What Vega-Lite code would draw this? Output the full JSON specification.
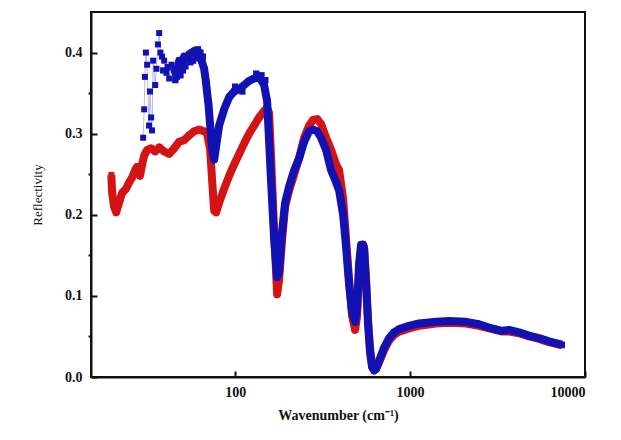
{
  "$schema": "https://vega.github.io/schema/vega-lite/v6.json",
  "width": 494,
  "height": 365,
  "autosize": "none",
  "padding": {"left": 91, "top": 12, "right": 36, "bottom": 63},
  "background": "white",
  "config": {
    "view": {"stroke": "#111", "strokeWidth": 2},
    "axis": {"grid": false, "domainColor": "#111", "domainWidth": 2, "tickColor": "#111", "tickWidth": 2,
             "labelFont": "Liberation Serif", "labelFontWeight": "bold", "labelFontSize": 14, "labelColor": "#111",
             "titleFont": "Liberation Serif", "titleColor": "#111"}
  },
  "datasets": {
    "red": [
      {"w": 19.6, "r": 0.249}, {"w": 19.8, "r": 0.228}, {"w": 20.3, "r": 0.21}, {"w": 20.9, "r": 0.203},
      {"w": 21.7, "r": 0.215}, {"w": 22.6, "r": 0.227}, {"w": 23.8, "r": 0.232}, {"w": 24.8, "r": 0.24},
      {"w": 25.8, "r": 0.246}, {"w": 26.8, "r": 0.255}, {"w": 27.5, "r": 0.259}, {"w": 28.6, "r": 0.248},
      {"w": 29.4, "r": 0.262}, {"w": 30.2, "r": 0.273}, {"w": 31.4, "r": 0.28}, {"w": 33.1, "r": 0.282},
      {"w": 34.9, "r": 0.278}, {"w": 36.8, "r": 0.283}, {"w": 39.3, "r": 0.278}, {"w": 42.0, "r": 0.275},
      {"w": 44.8, "r": 0.282}, {"w": 47.9, "r": 0.29}, {"w": 51.1, "r": 0.292}, {"w": 54.6, "r": 0.298},
      {"w": 58.3, "r": 0.303}, {"w": 62.3, "r": 0.305}, {"w": 66.5, "r": 0.303}, {"w": 69.2, "r": 0.3},
      {"w": 72.0, "r": 0.28}, {"w": 74.0, "r": 0.24}, {"w": 75.9, "r": 0.205}, {"w": 77.9, "r": 0.203},
      {"w": 81.0, "r": 0.215}, {"w": 86.5, "r": 0.232}, {"w": 92.4, "r": 0.248}, {"w": 98.7, "r": 0.262},
      {"w": 105.4, "r": 0.275}, {"w": 112.6, "r": 0.288}, {"w": 120.2, "r": 0.3}, {"w": 128.4, "r": 0.31},
      {"w": 137.1, "r": 0.32}, {"w": 146.4, "r": 0.328}, {"w": 152.4, "r": 0.332}, {"w": 156.4, "r": 0.325},
      {"w": 160.6, "r": 0.27}, {"w": 167.1, "r": 0.18}, {"w": 173.8, "r": 0.102}, {"w": 178.4, "r": 0.12},
      {"w": 185.6, "r": 0.17}, {"w": 193.1, "r": 0.21}, {"w": 203.5, "r": 0.23}, {"w": 217.5, "r": 0.25},
      {"w": 232.3, "r": 0.27}, {"w": 248, "r": 0.295}, {"w": 264.8, "r": 0.31}, {"w": 279.1, "r": 0.317},
      {"w": 294.2, "r": 0.318}, {"w": 309.9, "r": 0.312}, {"w": 331.1, "r": 0.295}, {"w": 353.7, "r": 0.28},
      {"w": 377.7, "r": 0.262}, {"w": 392.9, "r": 0.255}, {"w": 414.3, "r": 0.22}, {"w": 430.8, "r": 0.17},
      {"w": 448, "r": 0.12}, {"w": 466.2, "r": 0.075}, {"w": 485.1, "r": 0.058}, {"w": 497.9, "r": 0.075},
      {"w": 511.2, "r": 0.13}, {"w": 524.8, "r": 0.16}, {"w": 538.6, "r": 0.163}, {"w": 545.8, "r": 0.16},
      {"w": 560.5, "r": 0.12}, {"w": 575.4, "r": 0.07}, {"w": 590.7, "r": 0.035}, {"w": 606.5, "r": 0.015},
      {"w": 622.7, "r": 0.01}, {"w": 639.3, "r": 0.01}, {"w": 664.8, "r": 0.018}, {"w": 710.2, "r": 0.033},
      {"w": 758.7, "r": 0.045}, {"w": 810.5, "r": 0.052}, {"w": 865.8, "r": 0.056}, {"w": 986.9, "r": 0.06},
      {"w": 1124.6, "r": 0.063}, {"w": 1408, "r": 0.066}, {"w": 1670, "r": 0.067}, {"w": 2089, "r": 0.066},
      {"w": 2479, "r": 0.063}, {"w": 2827, "r": 0.06}, {"w": 3357, "r": 0.056}, {"w": 3681, "r": 0.056},
      {"w": 4196, "r": 0.054}, {"w": 4784, "r": 0.05}, {"w": 5453, "r": 0.047}, {"w": 6216, "r": 0.043},
      {"w": 7390, "r": 0.039}
    ],
    "blue": [
      {"w": 29.8, "r": 0.295}, {"w": 30.2, "r": 0.33}, {"w": 30.5, "r": 0.37}, {"w": 30.9, "r": 0.4},
      {"w": 31.4, "r": 0.385}, {"w": 32.2, "r": 0.31}, {"w": 32.6, "r": 0.352}, {"w": 33.1, "r": 0.32},
      {"w": 33.5, "r": 0.304}, {"w": 34.0, "r": 0.39}, {"w": 34.9, "r": 0.36}, {"w": 35.5, "r": 0.38},
      {"w": 36.2, "r": 0.41}, {"w": 36.8, "r": 0.424}, {"w": 37.4, "r": 0.4}, {"w": 38.2, "r": 0.395},
      {"w": 39.3, "r": 0.39}, {"w": 40.5, "r": 0.375}, {"w": 42.0, "r": 0.368}, {"w": 43.3, "r": 0.385},
      {"w": 44.8, "r": 0.38}, {"w": 46.3, "r": 0.37}, {"w": 47.9, "r": 0.39}, {"w": 49.5, "r": 0.385},
      {"w": 51.1, "r": 0.395}, {"w": 53.0, "r": 0.392}, {"w": 54.6, "r": 0.398}, {"w": 56.5, "r": 0.4},
      {"w": 58.3, "r": 0.402}, {"w": 60.3, "r": 0.398}, {"w": 62.3, "r": 0.395}, {"w": 64.3, "r": 0.39},
      {"w": 66.5, "r": 0.38}, {"w": 68.0, "r": 0.365}, {"w": 69.2, "r": 0.35}, {"w": 70.5, "r": 0.335},
      {"w": 72.0, "r": 0.31}, {"w": 74.0, "r": 0.28}, {"w": 75.9, "r": 0.268}, {"w": 77.9, "r": 0.285},
      {"w": 81.0, "r": 0.31}, {"w": 86.5, "r": 0.33}, {"w": 92.4, "r": 0.345}, {"w": 98.7, "r": 0.352},
      {"w": 105.4, "r": 0.355}, {"w": 112.6, "r": 0.36}, {"w": 120.2, "r": 0.365}, {"w": 128.4, "r": 0.368},
      {"w": 137.1, "r": 0.37}, {"w": 146.4, "r": 0.36}, {"w": 152.4, "r": 0.34}, {"w": 156.4, "r": 0.29},
      {"w": 160.6, "r": 0.24}, {"w": 167.1, "r": 0.17}, {"w": 173.8, "r": 0.123}, {"w": 178.4, "r": 0.13},
      {"w": 185.6, "r": 0.18}, {"w": 193.1, "r": 0.215}, {"w": 203.5, "r": 0.235}, {"w": 217.5, "r": 0.255},
      {"w": 232.3, "r": 0.27}, {"w": 248, "r": 0.29}, {"w": 264.8, "r": 0.303}, {"w": 279.1, "r": 0.305},
      {"w": 294.2, "r": 0.303}, {"w": 309.9, "r": 0.295}, {"w": 331.1, "r": 0.28}, {"w": 353.7, "r": 0.255},
      {"w": 377.7, "r": 0.24}, {"w": 392.9, "r": 0.23}, {"w": 414.3, "r": 0.2}, {"w": 430.8, "r": 0.16},
      {"w": 448, "r": 0.115}, {"w": 466.2, "r": 0.08}, {"w": 485.1, "r": 0.068}, {"w": 497.9, "r": 0.085},
      {"w": 511.2, "r": 0.14}, {"w": 524.8, "r": 0.163}, {"w": 538.6, "r": 0.163}, {"w": 545.8, "r": 0.158},
      {"w": 560.5, "r": 0.115}, {"w": 575.4, "r": 0.065}, {"w": 590.7, "r": 0.03}, {"w": 606.5, "r": 0.012},
      {"w": 622.7, "r": 0.008}, {"w": 639.3, "r": 0.01}, {"w": 664.8, "r": 0.02}, {"w": 710.2, "r": 0.036},
      {"w": 758.7, "r": 0.048}, {"w": 810.5, "r": 0.055}, {"w": 865.8, "r": 0.059}, {"w": 986.9, "r": 0.063},
      {"w": 1124.6, "r": 0.066}, {"w": 1408, "r": 0.068}, {"w": 1670, "r": 0.069}, {"w": 2089, "r": 0.068},
      {"w": 2479, "r": 0.065}, {"w": 2827, "r": 0.061}, {"w": 3357, "r": 0.057}, {"w": 3681, "r": 0.058},
      {"w": 4196, "r": 0.055}, {"w": 4784, "r": 0.051}, {"w": 5453, "r": 0.048}, {"w": 6216, "r": 0.044},
      {"w": 7390, "r": 0.04}
    ],
    "blue_extra": [
      {"w": 38.8, "r": 0.378}, {"w": 41.2, "r": 0.382}, {"w": 45.5, "r": 0.366}, {"w": 48.7, "r": 0.372},
      {"w": 50.3, "r": 0.378}, {"w": 52.0, "r": 0.383}, {"w": 55.5, "r": 0.388}, {"w": 57.4, "r": 0.39},
      {"w": 59.3, "r": 0.393}, {"w": 61.3, "r": 0.404}, {"w": 63.3, "r": 0.4}, {"w": 65.4, "r": 0.395},
      {"w": 132.0, "r": 0.374}, {"w": 141.5, "r": 0.372}, {"w": 148.8, "r": 0.366}, {"w": 100.0, "r": 0.358},
      {"w": 110.0, "r": 0.352}
    ]
  },
  "encoding": {
    "x": {"field": "w", "type": "quantitative",
          "scale": {"type": "log", "domain": [15, 10000]},
          "axis": {"values": [100, 1000, 10000], "format": "d", "tickSize": -6, "labelPadding": 14,
                   "title": "Wavenumber (cm⁻¹)", "titleFontSize": 14, "titleFontWeight": "bold", "titlePadding": 9}},
    "y": {"field": "r", "type": "quantitative", "scale": {"domain": [0, 0.45], "nice": false, "zero": true}}
  },
  "layer": [
    {
      "data": {"name": "red"},
      "mark": {"type": "line", "color": "#d41414", "strokeWidth": 8, "strokeJoin": "round"},
      "encoding": {"y": {"field": "r", "type": "quantitative",
        "axis": {"values": [0, 0.1, 0.2, 0.3, 0.4], "format": ".1f", "tickSize": -6, "labelPadding": 15,
                 "title": "Reflectivity", "titleFontSize": 13, "titleFontWeight": "normal", "titlePadding": 20}}}
    },
    {
      "data": {"name": "red"},
      "mark": {"type": "point", "shape": "square", "filled": true, "color": "#d41414", "size": 36, "opacity": 1},
      "encoding": {"y": {"field": "r", "type": "quantitative",
        "axis": {"values": [0.05, 0.15, 0.25, 0.35], "labels": false, "tickSize": 3, "domain": false, "title": null, "orient": "left"}}}
    },
    {
      "data": {"name": "blue"},
      "transform": [{"filter": "datum.w >= 44"}],
      "mark": {"type": "line", "color": "#1212b4", "strokeWidth": 8, "strokeJoin": "round"},
      "encoding": {"y": {"field": "r", "type": "quantitative", "axis": null}}
    },
    {
      "data": {"name": "blue"},
      "transform": [{"filter": "datum.w < 46"}],
      "mark": {"type": "line", "color": "#8a8ae0", "strokeWidth": 1, "opacity": 0.6},
      "encoding": {"y": {"field": "r", "type": "quantitative", "axis": null}}
    },
    {
      "data": {"name": "blue"},
      "mark": {"type": "point", "shape": "square", "filled": true, "color": "#1212b4", "size": 36, "opacity": 1},
      "encoding": {"y": {"field": "r", "type": "quantitative", "axis": null}}
    },
    {
      "data": {"name": "blue_extra"},
      "mark": {"type": "point", "shape": "square", "filled": true, "color": "#1212b4", "size": 40, "opacity": 1},
      "encoding": {"y": {"field": "r", "type": "quantitative", "axis": null}}
    }
  ],
  "resolve": {"axis": {"y": "independent"}}
}
